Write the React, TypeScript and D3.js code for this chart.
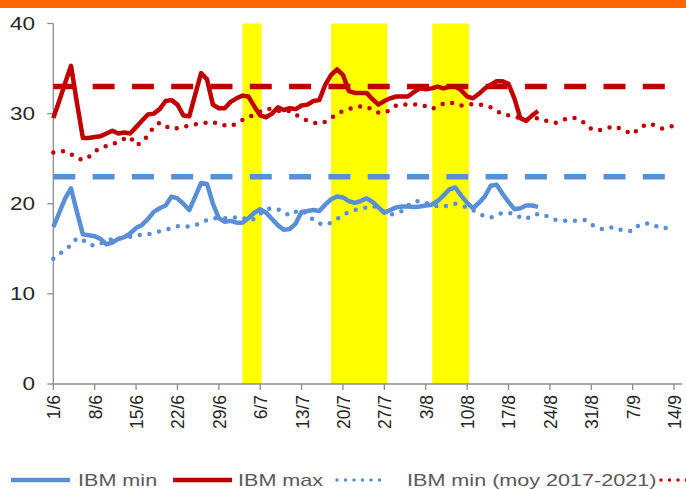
import React from "react";
import * as d3 from "d3";

// ---- data ----
const tickDays = [0, 7, 14, 21, 28, 35, 42, 49, 56, 63, 70, 77, 84, 91, 98, 105];
const tickLabels = ["1/6", "8/6", "15/6", "22/6", "29/6", "6/7", "13/7", "20/7", "27/7", "3/8", "10/8", "17/8", "24/8", "31/8", "7/9", "14/9"];
const yTicks = [0, 10, 20, 30, 40];

// daily values from 1/6
const ibmMin = [
  17.4, 19.0, 20.6, 21.7, 19.1, 16.6, 16.5, 16.4, 16.1, 15.5,
  15.7, 16.1, 16.3, 16.7, 17.3, 17.65, 18.3, 19.1, 19.5, 19.8,
  20.8, 20.6, 20.0, 19.3, 20.8, 22.3, 22.2, 20.0, 18.4, 18.0,
  18.1, 17.9, 17.9, 18.4, 19.0, 19.4, 19.0, 18.3, 17.6, 17.1,
  17.2, 17.8, 19.1, 19.2, 19.3, 19.2, 19.9, 20.5, 20.8, 20.7,
  20.3, 20.1, 20.3, 20.6, 20.2, 19.6, 19.0, 19.3, 19.6, 19.7,
  19.7, 19.65, 19.7, 19.8, 19.9, 20.3, 20.9, 21.6, 21.8, 20.9,
  20.1, 19.5, 20.1, 20.8, 22.0, 22.1, 21.1, 20.2, 19.4, 19.5,
  19.8, 19.8, 19.65,
];
const ibmMax = [
  29.5, 31.4, 33.4, 35.3, 31.2, 27.3, 27.3, 27.4, 27.5, 27.8,
  28.1, 27.8, 27.9, 27.8, 28.5, 29.2, 29.9, 30.0, 30.5, 31.4,
  31.5, 31.0, 29.8, 29.7, 32.1, 34.5, 33.8, 31.0, 30.6, 30.6,
  31.3, 31.7, 32.0, 31.9, 30.8, 29.8, 29.6, 30.0, 30.7, 30.4,
  30.6, 30.5, 30.9, 31.0, 31.4, 31.5, 33.2, 34.3, 34.9, 34.3,
  32.5, 32.3, 32.3, 32.3, 31.6, 31.0, 31.4, 31.7, 31.9, 31.9,
  31.9, 32.4, 32.8, 32.7, 32.8, 33.0, 32.8, 33.0, 33.0, 32.6,
  31.9, 31.7, 32.2, 32.8, 33.2, 33.6, 33.6, 33.3, 31.7, 29.5,
  29.2, 29.8, 30.3,
];
const ibmMinAvg = [
  13.9, 14.4, 14.9, 15.4, 16.2, 16.0, 15.5, 15.35, 15.6, 15.9,
  16.1, 16.15, 16.2, 16.35, 16.5, 16.55, 16.6, 16.75, 16.95, 17.1,
  17.3, 17.5, 17.5, 17.45, 17.6, 17.9, 18.2, 18.4, 18.4, 18.4,
  18.4, 18.5, 18.5, 18.1, 18.3, 18.9, 19.4, 19.5, 19.4, 19.0,
  18.7, 19.1, 19.3, 18.8, 18.2, 17.8, 17.65, 17.9, 18.3, 18.7,
  19.1, 19.3, 19.45, 19.6, 19.8, 19.5, 19.1, 18.8, 18.9, 19.2,
  19.8, 20.25, 20.3, 20.1, 19.9, 19.7, 19.65, 19.9, 20.0, 19.8,
  19.6, 19.3, 18.9, 18.6, 18.45, 18.7, 19.0, 18.95, 18.9, 18.5,
  18.3, 18.75, 18.85, 18.8, 18.4, 18.2, 18.1, 18.1, 18.1, 18.15,
  18.2, 17.7, 17.4, 17.15, 17.35, 17.4, 17.1, 17.0, 16.95, 17.6,
  17.8, 17.8, 17.5, 17.25, 17.35, 17.4,
];
const ibmMaxAvg = [
  25.7, 25.8, 25.85, 25.5, 25.1, 24.85, 25.2, 25.8, 26.2, 26.4,
  26.6, 26.9, 27.2, 27.4, 26.5, 26.8, 27.6, 28.5, 29.0, 28.6,
  28.3, 28.4, 28.5, 28.7, 28.8, 28.9, 29.0, 29.1, 28.8, 28.7,
  28.6, 28.9, 29.3, 29.6, 29.9, 30.2, 30.5, 30.5, 30.3, 30.3,
  30.3, 29.9, 29.5, 29.2, 29.0, 28.9, 29.1, 29.5, 30.0, 30.3,
  30.5, 30.7, 30.8, 30.8, 30.4, 30.1, 30.1, 30.4, 30.9, 31.0,
  31.0, 31.0, 31.0, 30.8, 30.5, 30.8, 31.1, 31.25, 31.1, 30.9,
  31.0, 31.05, 31.05, 30.9, 30.7, 30.3, 29.95, 29.8, 29.65, 29.5,
  29.3, 29.4, 29.5, 29.3, 29.1, 29.0, 29.3, 29.45, 29.55, 29.3,
  28.9, 28.3, 28.1, 28.25, 28.45, 28.6, 28.3, 28.0, 27.7, 28.3,
  28.7, 28.9, 28.6, 28.35, 28.5, 28.65,
];
const thresholdMax = 33;
const thresholdMin = 23;
const thresholdDays = [0, 105];
// heat-wave periods, in days from 1/6
const bandStarts = [32, 47, 64.1];
const bandEnds = [35.25, 56.5, 70.3];

// the last legend entry (IBM max moy) runs past the picture's right edge; only its marker shows
const legendLabels = ["IBM min", "IBM max", "IBM min (moy 2017-2021)", ""];

// ---- style ----
const W = 686;
const H = 489;
const RED = "#C00000";
const BLUE = "#5A8FD6";
const AXIS = "#8C8C8C";
const FONT = "'Liberation Sans', Arial, sans-serif";

export default function App() {
  const x = d3.scaleLinear().domain([0, 105]).range([53.3, 674]);
  const y = d3.scaleLinear().domain([0, 40]).range([384, 23.5]);

  const line = d3
    .line<number>()
    .x((_, i) => x(i))
    .y((d) => y(d));

  const hLine = (v: number) =>
    d3
      .line<number>()
      .x((d) => x(d))
      .y(() => y(v))(thresholdDays) as string;

  const legendY = 480;
  const legendItems = [
    { x0: 11, x1: 70, tx: 78, color: BLUE, dotted: false },
    { x0: 173, x1: 232, tx: 238, color: RED, dotted: false },
    { x0: 337, x1: 387, tx: 407, color: BLUE, dotted: true },
    { x0: 661, x1: 711, tx: 730, color: RED, dotted: true },
  ];

  return (
    <svg
      width={W}
      height={H}
      style={{ position: "absolute", left: 0, top: 0, background: "#fff" }}
      fontFamily={FONT}
    >
      <rect x={0} y={0} width={W} height={H} fill="#fff" />
      <rect x={0} y={0} width={W} height={8} fill="#FF6600" />

      {/* heat-wave bands */}
      {bandStarts.map((s, i) => (
        <rect
          key={i}
          x={x(s)}
          y={y(40)}
          width={x(bandEnds[i]) - x(s)}
          height={y(0) - y(40)}
          fill="#FFFF00"
        />
      ))}

      {/* axes */}
      <line x1={x(0)} x2={x(0)} y1={y(40)} y2={y(0)} stroke={AXIS} strokeWidth={1.3} />
      <line x1={x(0)} x2={x(105) + 8} y1={y(0)} y2={y(0)} stroke={AXIS} strokeWidth={1.3} />
      {yTicks.map((t) => (
        <g key={t}>
          <line x1={x(0) - 6} x2={x(0)} y1={y(t)} y2={y(t)} stroke={AXIS} strokeWidth={1.3} />
          <text
            transform={`translate(35,${y(t)}) scale(1.25,1)`}
            textAnchor="end"
            dy="0.36em"
            fontSize={18}
            fill="#262626"
          >
            {t}
          </text>
        </g>
      ))}
      {tickDays.map((d, i) => (
        <g key={d}>
          <line x1={x(d)} x2={x(d)} y1={y(0)} y2={y(0) + 6} stroke={AXIS} strokeWidth={1.3} />
          <text
            transform={`translate(${x(d)},395) scale(1.1,1) rotate(-90)`}
            textAnchor="end"
            dy="0.36em"
            fontSize={17.5}
            fill="#262626"
          >
            {tickLabels[i]}
          </text>
        </g>
      ))}

      {/* averages (dotted) */}
      <path
        d={line(ibmMaxAvg) as string}
        fill="none"
        stroke={RED}
        strokeWidth={4.5}
        strokeLinecap="round"
        strokeDasharray="0 9.8"
      />
      <path
        d={line(ibmMinAvg) as string}
        fill="none"
        stroke={BLUE}
        strokeWidth={4.5}
        strokeLinecap="round"
        strokeDasharray="0 9.8"
      />

      {/* thresholds (dashed) */}
      <path d={hLine(thresholdMax)} fill="none" stroke={RED} strokeWidth={5.5} strokeDasharray="22 17.3" />
      <path d={hLine(thresholdMin)} fill="none" stroke={BLUE} strokeWidth={5.5} strokeDasharray="22 17.3" />

      {/* observed */}
      <path d={line(ibmMin) as string} fill="none" stroke={BLUE} strokeWidth={4.5} strokeLinejoin="round" />
      <path d={line(ibmMax) as string} fill="none" stroke={RED} strokeWidth={4.5} strokeLinejoin="round" />

      {/* legend */}
      {legendItems.map((it, i) => (
        <g key={i}>
          <line
            x1={it.x0}
            x2={it.x1}
            y1={legendY}
            y2={legendY}
            stroke={it.color}
            strokeWidth={it.dotted ? 3.5 : 4.5}
            strokeLinecap={it.dotted ? "round" : "butt"}
            strokeDasharray={it.dotted ? "0 8.5" : undefined}
          />
          {legendLabels[i] ? (
            <text
              transform={`translate(${it.tx},${legendY}) scale(1.27,1)`}
              dy="0.36em"
              fontSize={17}
              fill="#595959"
            >
              {legendLabels[i]}
            </text>
          ) : null}
        </g>
      ))}
    </svg>
  );
}
